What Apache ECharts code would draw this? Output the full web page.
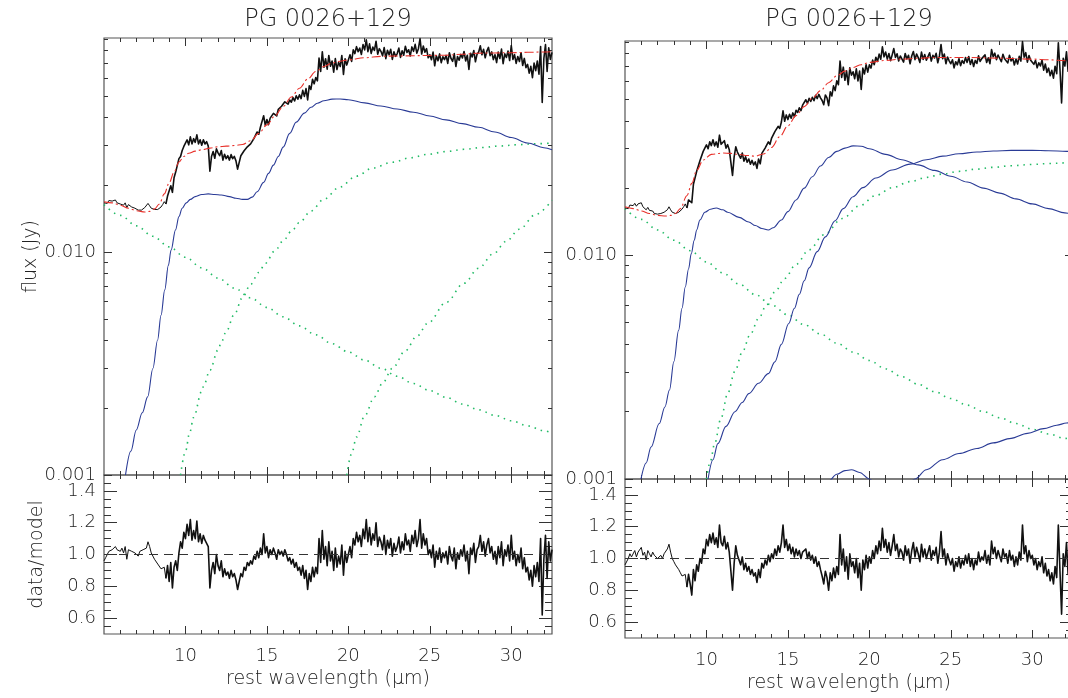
<!DOCTYPE html>
<html>
<head>
<meta charset="utf-8">
<script src="https://cdn.jsdelivr.net/npm/echarts@6.0.0/dist/echarts.min.js"></script>
<style>
html,body{margin:0;padding:0;background:#fff;}
#chart{width:1068px;height:698px;}
</style>
</head>
<body>
<div id="chart"></div>
<script>
// ---------------- DATA ----------------
const TITLE = 'PG 0026+129';
const X_MIN = 5, X_MAX = 32.5;
const X_MAJOR = [10, 15, 20, 25, 30];
const X_MINOR = [6,7,8,9,11,12,13,14,16,17,18,19,21,22,23,24,26,27,28,29,31,32];
const FLUX_MIN = 0.001, FLUX_MAX = 0.091;
const FLUX_LABELS = [0.001, 0.01];
const FLUX_MINOR = [0.002,0.003,0.004,0.005,0.006,0.007,0.008,0.009,0.02,0.03,0.04,0.05,0.06,0.07,0.08,0.09];
const RATIO_MIN = 0.5, RATIO_MAX = 1.5;
const RATIO_MAJOR = [0.6, 0.8, 1.0, 1.2, 1.4];
const RATIO_MINOR = [0.55,0.65,0.7,0.75,0.85,0.9,0.95,1.05,1.1,1.15,1.25,1.3,1.35,1.45];
const RATIO_UNITY = 1.0;

// spectra sampled every 0.1 micron from 5.0 to 32.5
const WAVE_START = 5.0, WAVE_STEP = 0.1;
const DENSE_FROM = 38;   // index (8.8 micron) where the densely sampled part of the spectrum starts

const LEFT_SPECTRUM = [
0.0166,0.0168,0.0165,0.0170,0.0167,0.0169,0.0166,0.0171,0.0166,0.0168,
0.0164,0.0167,0.0162,0.0166,0.0158,0.0163,0.0161,0.0159,0.0160,0.0157,
0.0155,0.0154,0.0156,0.0154,0.0157,0.0158,0.0160,0.0165,0.0161,0.0157,
0.0156,0.0155,0.0156,0.0155,0.0157,0.0159,0.0163,0.0168,0.0164,0.0178,
0.0176,0.0198,0.0185,0.0215,0.0228,0.0232,0.0262,0.0268,0.0285,0.0297,
0.0292,0.0318,0.0302,0.0328,0.0305,0.0322,0.0310,0.0335,0.0305,0.0318,
0.0301,0.0318,0.0305,0.0312,0.0298,0.0230,0.0268,0.0282,0.0263,0.0290,
0.0278,0.0270,0.0285,0.0258,0.0274,0.0262,0.0270,0.0258,0.0273,0.0262,
0.0268,0.0256,0.0235,0.0252,0.0270,0.0266,0.0284,0.0280,0.0296,0.0292,
0.0305,0.0304,0.0322,0.0320,0.0345,0.0337,0.0362,0.0356,0.0408,0.0369,
0.0392,0.0372,0.0398,0.0394,0.0418,0.0413,0.0407,0.0436,0.0432,0.0450,
0.0446,0.0471,0.0467,0.0460,0.0480,0.0469,0.0492,0.0475,0.0501,0.0484,
0.0506,0.0487,0.0530,0.0498,0.0540,0.0480,0.0555,0.0535,0.0594,0.0567,
0.0605,0.0585,0.0740,0.0645,0.0790,0.0673,0.0735,0.0660,0.0760,0.0680,
0.0718,0.0640,0.0736,0.0657,0.0708,0.0678,0.0760,0.0625,0.0735,0.0688,
0.0725,0.0765,0.0715,0.0805,0.0775,0.0832,0.0790,0.0820,0.0768,0.0850,
0.0805,0.0893,0.0790,0.0857,0.0776,0.0828,0.0800,0.0880,0.0770,0.0815,
0.0793,0.0757,0.0825,0.0735,0.0802,0.0765,0.0810,0.0730,0.0790,0.0753,
0.0775,0.0820,0.0745,0.0798,0.0762,0.0836,0.0784,0.0806,0.0756,0.0830,
0.0793,0.0852,0.0778,0.0815,0.0905,0.0771,0.0838,0.0786,0.0815,0.0742,
0.0765,0.0727,0.0787,0.0683,0.0758,0.0720,0.0772,0.0705,0.0750,0.0728,
0.0760,0.0700,0.0782,0.0737,0.0715,0.0775,0.0678,0.0752,0.0723,0.0768,
0.0740,0.0792,0.0718,0.0762,0.0658,0.0778,0.0748,0.0800,0.0712,0.0770,
0.0787,0.0840,0.0765,0.0810,0.0742,0.0795,0.0826,0.0758,0.0788,0.0728,
0.0766,0.0706,0.0788,0.0736,0.0811,0.0698,0.0773,0.0744,0.0796,0.0721,
0.0842,0.0729,0.0767,0.0700,0.0752,0.0714,0.0782,0.0685,0.0737,0.0670,
0.0693,0.0633,0.0679,0.0604,0.0702,0.0650,0.0718,0.0627,0.0833,0.0468,
0.0735,0.0850,0.0645,0.0822,0.0730,0.0785
];

const LEFT_RATIO = [
0.96,0.98,1.00,1.02,1.01,1.03,1.02,1.05,1.03,1.04,
1.02,1.04,1.01,1.05,0.97,1.03,1.04,1.02,1.03,1.01,
1.00,0.99,1.02,1.01,1.03,1.02,1.04,1.08,1.05,1.01,
0.99,0.97,0.96,0.94,0.93,0.91,0.90,0.92,0.85,0.93,
0.83,0.95,0.79,0.92,0.96,0.90,1.01,1.08,1.04,1.14,
1.10,1.19,1.12,1.22,1.09,1.15,1.10,1.21,1.08,1.13,
1.07,1.12,1.09,1.10,1.05,0.79,0.90,0.95,0.88,1.00,
0.93,0.90,0.96,0.86,0.91,0.87,0.89,0.85,0.90,0.86,
0.88,0.84,0.78,0.83,0.88,0.86,0.92,0.90,0.95,0.93,
0.96,0.94,0.99,0.97,1.02,0.98,1.04,1.00,1.13,1.01,
1.05,0.98,1.03,1.00,1.04,1.01,0.97,1.03,1.00,1.02,
0.99,1.03,1.00,0.96,0.98,0.94,0.97,0.92,0.95,0.90,
0.92,0.87,0.93,0.85,0.90,0.78,0.88,0.83,0.92,0.86,
0.92,0.88,1.10,0.95,1.15,0.97,1.05,0.93,1.08,0.96,
1.02,0.90,1.04,0.92,0.99,0.94,1.06,0.87,1.02,0.95,
1.00,1.05,0.98,1.10,1.06,1.14,1.08,1.12,1.05,1.16,
1.10,1.22,1.08,1.17,1.06,1.13,1.09,1.20,1.05,1.11,
1.08,1.03,1.12,1.00,1.09,1.04,1.10,0.99,1.07,1.02,
1.05,1.11,1.01,1.08,1.03,1.13,1.06,1.09,1.02,1.12,
1.07,1.15,1.05,1.10,1.22,1.04,1.13,1.06,1.10,1.00,
1.03,0.98,1.06,0.92,1.02,0.97,1.04,0.95,1.01,0.98,
1.02,0.94,1.05,0.99,0.96,1.04,0.91,1.01,0.97,1.03,
0.99,1.06,0.96,1.02,0.88,1.04,1.00,1.07,0.95,1.03,
1.05,1.12,1.02,1.08,0.99,1.06,1.10,1.01,1.05,0.97,
1.02,0.94,1.05,0.98,1.08,0.93,1.03,0.99,1.06,0.96,
1.12,0.97,1.02,0.93,1.00,0.95,1.04,0.91,0.98,0.89,
0.92,0.84,0.90,0.80,0.93,0.86,0.95,0.83,1.10,0.62,
0.97,1.12,0.85,1.08,0.96,1.03
];

const RIGHT_SPECTRUM = [
0.0163,0.0165,0.0162,0.0168,0.0166,0.0167,0.0171,0.0166,0.0170,0.0167,
0.0172,0.0165,0.0167,0.0160,0.0164,0.0159,0.0157,0.0158,0.0154,0.0155,
0.0153,0.0152,0.0154,0.0153,0.0156,0.0158,0.0160,0.0165,0.0160,0.0156,
0.0155,0.0154,0.0155,0.0156,0.0158,0.0161,0.0165,0.0170,0.0163,0.0177,
0.0178,0.0172,0.0208,0.0205,0.0238,0.0240,0.0265,0.0262,0.0292,0.0287,
0.0312,0.0300,0.0322,0.0310,0.0329,0.0309,0.0322,0.0305,0.0345,0.0314,
0.0309,0.0326,0.0302,0.0313,0.0297,0.0298,0.0228,0.0276,0.0306,0.0290,
0.0292,0.0272,0.0287,0.0264,0.0276,0.0261,0.0270,0.0256,0.0266,0.0254,
0.0262,0.0245,0.0270,0.0257,0.0286,0.0282,0.0302,0.0298,0.0322,0.0314,
0.0335,0.0331,0.0358,0.0351,0.0378,0.0370,0.0395,0.0443,0.0398,0.0425,
0.0405,0.0428,0.0411,0.0434,0.0417,0.0446,0.0436,0.0457,0.0444,0.0470,
0.0475,0.0497,0.0478,0.0504,0.0488,0.0510,0.0492,0.0520,0.0503,0.0525,
0.0507,0.0493,0.0472,0.0522,0.0507,0.0468,0.0539,0.0517,0.0573,0.0546,
0.0604,0.0580,0.0740,0.0625,0.0695,0.0607,0.0670,0.0580,0.0690,0.0640,
0.0663,0.0617,0.0683,0.0603,0.0668,0.0553,0.0688,0.0648,0.0713,0.0660,
0.0712,0.0688,0.0748,0.0713,0.0770,0.0737,0.0795,0.0754,0.0857,0.0773,
0.0812,0.0755,0.0800,0.0743,0.0789,0.0842,0.0768,0.0798,0.0741,0.0780,
0.0768,0.0732,0.0800,0.0756,0.0786,0.0720,0.0780,0.0817,0.0751,0.0796,
0.0767,0.0730,0.0812,0.0753,0.0791,0.0747,0.0776,0.0806,0.0740,0.0785,
0.0764,0.0802,0.0727,0.0780,0.0878,0.0758,0.0795,0.0720,0.0772,0.0742,
0.0720,0.0750,0.0690,0.0735,0.0712,0.0758,0.0706,0.0744,0.0722,0.0767,
0.0730,0.0776,0.0715,0.0752,0.0700,0.0745,0.0722,0.0781,0.0737,0.0759,
0.0744,0.0789,0.0729,0.0766,0.0721,0.0834,0.0774,0.0803,0.0751,0.0788,
0.0781,0.0735,0.0794,0.0757,0.0771,0.0726,0.0786,0.0741,0.0763,0.0711,
0.0756,0.0718,0.0777,0.0740,0.0904,0.0770,0.0807,0.0732,0.0784,0.0746,
0.0761,0.0716,0.0745,0.0690,0.0727,0.0704,0.0748,0.0674,0.0718,0.0658,
0.0688,0.0636,0.0673,0.0621,0.0702,0.0650,0.0894,0.0680,0.0481,0.0762,
0.0703,0.0815,0.0666,0.0777,0.0717,0.0740
];

const RIGHT_RATIO = [
0.96,0.97,1.00,1.03,1.01,1.02,1.05,1.01,1.04,1.03,
1.07,1.02,1.04,0.99,1.05,1.03,1.01,1.04,1.02,1.03,
1.00,1.01,1.02,1.00,1.03,1.04,1.06,1.09,1.04,1.00,
0.98,0.96,0.95,0.93,0.91,0.89,0.88,0.90,0.82,0.90,
0.84,0.77,0.93,0.86,0.96,0.92,1.00,0.97,1.06,1.03,
1.12,1.08,1.15,1.10,1.16,1.09,1.13,1.07,1.21,1.10,
1.08,1.14,1.06,1.10,1.04,1.05,0.80,0.97,1.08,1.02,
1.03,0.96,1.01,0.93,0.97,0.92,0.95,0.90,0.93,0.89,
0.91,0.85,0.93,0.88,0.97,0.94,0.99,0.96,1.02,0.98,
1.03,1.00,1.06,1.02,1.08,1.04,1.10,1.21,1.07,1.12,
1.05,1.09,1.03,1.07,1.01,1.06,1.02,1.05,1.00,1.04,
1.03,1.06,1.00,1.04,0.99,1.02,0.97,1.01,0.95,0.98,
0.93,0.89,0.84,0.92,0.88,0.80,0.91,0.86,0.94,0.88,
0.95,0.90,1.15,0.96,1.06,0.92,1.01,0.87,1.03,0.95,
0.98,0.91,1.00,0.88,0.97,0.80,0.99,0.93,1.02,0.94,
1.01,0.97,1.05,1.00,1.08,1.03,1.11,1.05,1.19,1.07,
1.12,1.04,1.10,1.02,1.08,1.15,1.05,1.09,1.01,1.06,
1.04,0.99,1.08,1.02,1.06,0.97,1.05,1.10,1.01,1.07,
1.03,0.98,1.09,1.01,1.06,1.00,1.04,1.08,0.99,1.05,
1.02,1.07,0.97,1.04,1.17,1.01,1.06,0.96,1.03,0.99,
0.96,1.00,0.92,0.98,0.95,1.01,0.94,0.99,0.96,1.02,
0.97,1.03,0.95,1.00,0.93,0.99,0.96,1.04,0.98,1.01,
0.99,1.05,0.97,1.02,0.96,1.11,1.03,1.07,1.00,1.05,
1.04,0.98,1.06,1.01,1.03,0.97,1.05,0.99,1.02,0.95,
1.01,0.96,1.04,0.99,1.21,1.03,1.08,0.98,1.05,1.00,
1.02,0.96,1.00,0.93,0.98,0.95,1.01,0.91,0.97,0.89,
0.93,0.86,0.91,0.84,0.95,0.88,1.21,0.92,0.65,1.03,
0.95,1.10,0.90,1.05,0.97,1.00
];

// smooth model curves: [wavelength, flux]
const LEFT_MODEL = [[5.0,0.0168],[5.5,0.0166],[6.0,0.0162],[6.5,0.0157],[7.0,0.0153],[7.5,0.0151],[7.8,0.0152],[8.1,0.0156],[8.4,0.0164],[8.7,0.0182],[9.0,0.0204],[9.3,0.0228],[9.6,0.0253],[9.9,0.0268],[10.2,0.0277],[10.6,0.0283],[11.0,0.0287],[11.5,0.0292],[12.0,0.0296],[12.5,0.0298],[13.0,0.0300],[13.5,0.0303],[14.0,0.0315],[14.5,0.0340],[15.0,0.0371],[15.5,0.0408],[16.0,0.0449],[16.5,0.0495],[17.0,0.0542],[17.5,0.0595],[18.0,0.0644],[18.5,0.0678],[19.0,0.0702],[19.5,0.0716],[20.0,0.0726],[21.0,0.0742],[22.0,0.0753],[23.0,0.0756],[24.0,0.0758],[25.0,0.0760],[26.0,0.0762],[27.0,0.0770],[28.0,0.0778],[29.0,0.0780],[30.0,0.0782],[31.0,0.0785],[32.0,0.0788],[32.5,0.0790]];
const LEFT_BLUE = [[6.32,0.00100],[6.65,0.00128],[6.98,0.00159],[7.35,0.00190],[7.68,0.00224],[8.0,0.00300],[8.29,0.00403],[8.5,0.00520],[8.73,0.00676],[8.95,0.00870],[9.12,0.0102],[9.39,0.01256],[9.6,0.0144],[9.8,0.0157],[10.05,0.0166],[10.3,0.0172],[10.6,0.0177],[11.0,0.0181],[11.4,0.0182],[11.8,0.0181],[12.2,0.0180],[12.7,0.0177],[13.1,0.0174],[13.5,0.0172],[13.8,0.0172],[14.1,0.0176],[14.4,0.0186],[14.8,0.0205],[15.1,0.0225],[15.4,0.0245],[15.7,0.0268],[16.0,0.0295],[16.4,0.0340],[16.8,0.0382],[17.3,0.0419],[17.7,0.0445],[18.1,0.0464],[18.5,0.0476],[19.0,0.0484],[19.5,0.0485],[20.0,0.0481],[21.0,0.0466],[22.0,0.0451],[23.0,0.0437],[24.0,0.0423],[25.0,0.0407],[26.0,0.0391],[27.0,0.0376],[28.0,0.0362],[29.0,0.0345],[30.0,0.0326],[31.0,0.0308],[32.0,0.0293],[32.5,0.0287]];
const LEFT_GREEN_1 = [[5,0.01629],[6,0.01459],[7,0.01309],[8,0.01175],[9,0.01054],[10,0.00946],[11,0.00849],[12,0.00764],[13,0.00689],[14,0.00622],[15,0.00564],[16,0.00512],[17,0.00466],[18,0.00425],[19,0.00388],[20,0.00356],[21,0.00327],[22,0.00301],[23,0.00277],[24,0.00257],[25,0.00239],[26,0.00223],[27,0.00208],[28,0.00196],[29,0.00185],[30,0.00175],[31,0.00166],[32,0.00158],[32.5,0.00154]];
const LEFT_GREEN_2 = [[9.7,0.001000],[10.0,0.001274],[10.26,0.001549],[10.5,0.001811],[11.0,0.002371],[11.1,0.002489],[11.5,0.002951],[12.0,0.003631],[12.2,0.003936],[12.5,0.004395],[13.0,0.005248],[13.5,0.006237],[14.0,0.007161],[14.5,0.008091],[14.9,0.008892],[15.5,0.010139],[16.0,0.011220],[16.5,0.012359],[17.0,0.013552],[17.7,0.015241],[18.5,0.017219],[19.45,0.019498],[20.5,0.021878],[21.5,0.023768],[22.7,0.025235],[23.8,0.026424],[24.9,0.027416],[26.0,0.028184],[27.1,0.028840],[28.2,0.029376],[29.3,0.029854],[30.5,0.030269],[31.5,0.030549],[32.5,0.030761]];
const LEFT_GREEN_3 = [[19.9,0.001000],[20.2,0.001245],[20.5,0.001479],[21.0,0.001841],[21.6,0.002239],[22.1,0.002582],[22.7,0.003006],[23.5,0.003606],[24.2,0.004188],[24.9,0.004808],[26.0,0.005943],[27.1,0.007244],[28.0,0.008453],[28.9,0.009817],[29.7,0.011169],[30.5,0.012647],[31.5,0.014723],[32.5,0.017061]];

const RIGHT_MODEL = [[5.0,0.0165],[5.5,0.0162],[6.0,0.0158],[6.5,0.0154],[7.0,0.0151],[7.5,0.0150],[7.8,0.0151],[8.1,0.0154],[8.4,0.0162],[8.8,0.0185],[9.1,0.0210],[9.4,0.0240],[9.8,0.0267],[10.3,0.0283],[11.0,0.0287],[11.5,0.0286],[12.0,0.0283],[12.5,0.0280],[13.0,0.0278],[13.5,0.0284],[14.0,0.0304],[14.5,0.0340],[15.0,0.0380],[15.5,0.0422],[16.0,0.0463],[16.5,0.0505],[17.0,0.0545],[17.5,0.0592],[18.0,0.0636],[18.5,0.0667],[19.0,0.0693],[19.5,0.0713],[20.0,0.0730],[21.0,0.0745],[22.0,0.0755],[23.0,0.0762],[24.0,0.0768],[26.0,0.0768],[28.0,0.0763],[30.0,0.0755],[31.0,0.0750],[32.0,0.0743],[32.5,0.0739]];
const RIGHT_BLUE_1 = [[5.98,0.00100],[6.3,0.00118],[6.6,0.00139],[7.1,0.00177],[7.45,0.00210],[7.73,0.00250],[8.0,0.00335],[8.29,0.00462],[8.5,0.00580],[8.7,0.00722],[8.9,0.00870],[9.07,0.0102],[9.25,0.0117],[9.4,0.0130],[9.6,0.0144],[9.9,0.0156],[10.25,0.0161],[10.6,0.0163],[11.0,0.0160],[11.3,0.0156],[12.0,0.0148],[12.6,0.0141],[13.0,0.0136],[13.4,0.0132],[13.8,0.0130],[14.1,0.0133],[14.6,0.0144],[15.0,0.0157],[15.5,0.0177],[16.0,0.0200],[16.5,0.0225],[17.0,0.0251],[17.5,0.0274],[18.0,0.0292],[18.5,0.0302],[19.0,0.0309],[19.5,0.0308],[20.0,0.0300],[21.0,0.0283],[22.0,0.0268],[23.0,0.0254],[24.0,0.0240],[25.0,0.0226],[26.0,0.0213],[27.0,0.0200],[28.0,0.0190],[29.0,0.0179],[30.0,0.0170],[31.0,0.0162],[32.0,0.0155],[32.5,0.0152]];
const RIGHT_BLUE_2 = [[10.1,0.00100],[10.4,0.00122],[10.7,0.00144],[11.2,0.00172],[11.75,0.00200],[12.2,0.00220],[12.6,0.00241],[13.2,0.00268],[13.8,0.00296],[14.2,0.00334],[14.6,0.00400],[15.05,0.00496],[15.4,0.00580],[15.7,0.00670],[16.0,0.00770],[16.3,0.00880],[16.8,0.0104],[17.3,0.0121],[17.9,0.0143],[18.4,0.0162],[19.0,0.0183],[19.6,0.0201],[20.4,0.0222],[21.4,0.0241],[22.5,0.0256],[23.5,0.0268],[24.5,0.0278],[25.5,0.0285],[26.6,0.0290],[27.6,0.0293],[28.7,0.0295],[30.0,0.0295],[31.0,0.0294],[32.1,0.0292],[32.5,0.0291]];
const RIGHT_BLUE_3 = [[17.0,0.00085],[17.5,0.00098],[18.0,0.00105],[18.5,0.00109],[18.9,0.00110],[19.4,0.00107],[20.0,0.00100],[20.5,0.00094],[21.5,0.00088],[22.3,0.00094],[22.8,0.00100],[23.5,0.00110],[24.5,0.00122],[25.5,0.00130],[26.6,0.00137],[27.6,0.00145],[28.7,0.00152],[29.7,0.00160],[30.7,0.00168],[31.5,0.00174],[32.1,0.00178],[32.5,0.00180]];
const RIGHT_GREEN_1 = [[5,0.0162],[6,0.0145],[7,0.0130],[8,0.0117],[9,0.01050],[10,0.00935],[11,0.00835],[12,0.00745],[13,0.00668],[14,0.00600],[15,0.00542],[16,0.00490],[17,0.00445],[18,0.00405],[19,0.00370],[20,0.00339],[21,0.00311],[22,0.00287],[23,0.00265],[24,0.00246],[25,0.00229],[26,0.00214],[27,0.00200],[28,0.00188],[29,0.00177],[30,0.00167],[31,0.00159],[32,0.00152],[32.5,0.00149]];
const RIGHT_GREEN_2 = [[10.0,0.001000],[10.25,0.001208],[10.5,0.001439],[10.9,0.001875],[11.3,0.002410],[11.75,0.003034],[12.2,0.003698],[12.7,0.004446],[13.2,0.005224],[13.7,0.006026],[14.2,0.006855],[14.8,0.007889],[15.5,0.009120],[16.3,0.010593],[17.2,0.012359],[18.35,0.014622],[19.4,0.016672],[20.4,0.018535],[21.4,0.020091],[22.5,0.021380],[23.5,0.022336],[24.5,0.023121],[25.5,0.023768],[26.6,0.024322],[27.6,0.024774],[28.7,0.025177],[30.0,0.025527],[31.0,0.025763],[32.1,0.025942],[32.5,0.026002]];

// ---------------- STYLE / LAYOUT ----------------
const FONT = 'DejaVu Sans';
const FONT_WEIGHT = 200;
const TEXT_COLOR = '#222';
const LABEL_SIZE = 18;
const NAME_SIZE = 19;
const TITLE_SIZE = 24;
const TICK_COLOR = '#333';
const FRAME_COLOR = '#555';
const C_BLACK = '#111';
const C_RED = '#e8302a';
const C_BLUE = '#2a3b96';
const C_GREEN = '#22bb66';

const PANELS = [
  { left: 104, fluxTop: 38, fluxH: 437, ratioTop: 475, ratioH: 159, titleX: 323, yNames: true },
  { left: 625, fluxTop: 41, fluxH: 438, ratioTop: 479, ratioH: 159, titleX: 844, yNames: false }
];
const PANEL_W = 448;

function onGrid(values) {
  return values.map((v, i) => [+(WAVE_START + i * WAVE_STEP).toFixed(2), v]);
}

const grids = [], xAxes = [], yAxes = [], series = [], titles = [];

function tickAxis(o) {
  const a = {
    type: 'value', gridIndex: o.grid, min: o.min, max: o.max, position: o.position,
    axisLine: { show: false, onZero: false },
    axisTick: { show: true, inside: true, length: o.len, customValues: o.ticks,
                lineStyle: { color: TICK_COLOR, width: 1 } },
    axisLabel: o.labels ? {
      show: true, customValues: o.labels, formatter: o.formatter, margin: o.margin,
      color: TEXT_COLOR, fontSize: LABEL_SIZE, fontFamily: FONT, fontWeight: FONT_WEIGHT
    } : { show: false },
    splitLine: { show: false }, minorTick: { show: false }, minorSplitLine: { show: false },
    silent: true
  };
  if (o.name) {
    a.name = o.name; a.nameLocation = 'middle'; a.nameGap = o.nameGap;
    if (o.nameRotate !== undefined) a.nameRotate = o.nameRotate;
    a.nameTextStyle = { color: TEXT_COLOR, fontSize: NAME_SIZE, fontFamily: FONT, fontWeight: FONT_WEIGHT };
  }
  return a;
}

function addXAxes(g, withLabels) {
  const dataIdx = xAxes.length;
  xAxes.push({ type: 'value', gridIndex: g, min: X_MIN, max: X_MAX, show: false });
  xAxes.push(tickAxis({ grid: g, min: X_MIN, max: X_MAX, position: 'bottom', len: 8, ticks: X_MAJOR,
    labels: withLabels ? X_MAJOR : null, formatter: v => String(v), margin: 13,
    name: withLabels ? 'rest wavelength (\u03bcm)' : null, nameGap: 36 }));
  xAxes.push(tickAxis({ grid: g, min: X_MIN, max: X_MAX, position: 'bottom', len: 4, ticks: X_MINOR }));
  xAxes.push(tickAxis({ grid: g, min: X_MIN, max: X_MAX, position: 'top', len: 8, ticks: X_MAJOR }));
  xAxes.push(tickAxis({ grid: g, min: X_MIN, max: X_MAX, position: 'top', len: 4, ticks: X_MINOR }));
  return dataIdx;
}

function addFluxYAxes(g, yName) {
  const dataIdx = yAxes.length;
  yAxes.push({ type: 'log', logBase: 10, gridIndex: g, min: FLUX_MIN, max: FLUX_MAX, show: false });
  const lmin = Math.log10(FLUX_MIN), lmax = Math.log10(FLUX_MAX);
  const major = FLUX_LABELS.map(Math.log10), minor = FLUX_MINOR.map(Math.log10);
  yAxes.push(tickAxis({ grid: g, min: lmin, max: lmax, position: 'left', len: 8, ticks: major,
    labels: major, formatter: v => Math.pow(10, v).toFixed(3), margin: 8,
    name: yName ? 'flux (Jy)' : null, nameGap: 57, nameRotate: 90 }));
  yAxes.push(tickAxis({ grid: g, min: lmin, max: lmax, position: 'left', len: 4, ticks: minor }));
  yAxes.push(tickAxis({ grid: g, min: lmin, max: lmax, position: 'right', len: 8, ticks: major }));
  yAxes.push(tickAxis({ grid: g, min: lmin, max: lmax, position: 'right', len: 4, ticks: minor }));
  return dataIdx;
}

function addRatioYAxes(g, yName) {
  const dataIdx = yAxes.length;
  yAxes.push({ type: 'value', gridIndex: g, min: RATIO_MIN, max: RATIO_MAX, show: false });
  yAxes.push(tickAxis({ grid: g, min: RATIO_MIN, max: RATIO_MAX, position: 'left', len: 13, ticks: RATIO_MAJOR,
    labels: RATIO_MAJOR, formatter: v => Number(v).toFixed(1), margin: 8,
    name: yName ? 'data/model' : null, nameGap: 57, nameRotate: 90 }));
  yAxes.push(tickAxis({ grid: g, min: RATIO_MIN, max: RATIO_MAX, position: 'left', len: 7, ticks: RATIO_MINOR }));
  yAxes.push(tickAxis({ grid: g, min: RATIO_MIN, max: RATIO_MAX, position: 'right', len: 13, ticks: RATIO_MAJOR }));
  yAxes.push(tickAxis({ grid: g, min: RATIO_MIN, max: RATIO_MAX, position: 'right', len: 7, ticks: RATIO_MINOR }));
  return dataIdx;
}

function line(data, xi, yi, style, smooth) {
  const s = {
    type: 'line', data: data, xAxisIndex: xi, yAxisIndex: yi,
    showSymbol: false, symbol: 'none', animation: false, silent: true, clip: true,
    lineStyle: style
  };
  if (smooth) { s.smooth = 0.35; s.smoothMonotone = 'x'; }
  return s;
}

const blackThin = { color: C_BLACK, width: 1.0 };
const blackDense = { color: C_BLACK, width: 1.6, join: 'round' };
const red = { color: C_RED, width: 1.1, type: [9, 3, 2, 3] };
const blue = { color: C_BLUE, width: 1.1 };
const green = { color: C_GREEN, width: 1.6, type: [1.5, 5] };

const PANEL_DATA = [
  { spectrum: LEFT_SPECTRUM, ratio: LEFT_RATIO, model: LEFT_MODEL,
    blues: [LEFT_BLUE], greens: [LEFT_GREEN_1, LEFT_GREEN_2, LEFT_GREEN_3] },
  { spectrum: RIGHT_SPECTRUM, ratio: RIGHT_RATIO, model: RIGHT_MODEL,
    blues: [RIGHT_BLUE_1, RIGHT_BLUE_2, RIGHT_BLUE_3], greens: [RIGHT_GREEN_1, RIGHT_GREEN_2] }
];

PANELS.forEach((p, k) => {
  const d = PANEL_DATA[k];
  const gFlux = grids.length;
  grids.push({ left: p.left, top: p.fluxTop, width: PANEL_W, height: p.fluxH, show: true,
    borderColor: FRAME_COLOR, borderWidth: 1.2, backgroundColor: 'transparent',
    containLabel: false, outerBoundsMode: 'none' });
  const gRatio = grids.length;
  grids.push({ left: p.left, top: p.ratioTop, width: PANEL_W, height: p.ratioH, show: true,
    borderColor: FRAME_COLOR, borderWidth: 1.2, backgroundColor: 'transparent',
    containLabel: false, outerBoundsMode: 'none' });

  const xf = addXAxes(gFlux, false);
  const yf = addFluxYAxes(gFlux, p.yNames);
  const xr = addXAxes(gRatio, true);
  const yr = addRatioYAxes(gRatio, p.yNames);

  d.greens.forEach(c => series.push(line(c, xf, yf, green, true)));
  d.blues.forEach(c => series.push(line(c, xf, yf, blue, true)));
  const spec = onGrid(d.spectrum);
  series.push(line(spec.slice(0, DENSE_FROM + 1), xf, yf, blackThin, false));
  series.push(line(spec.slice(DENSE_FROM), xf, yf, blackDense, false));
  series.push(line(d.model, xf, yf, red, true));

  const rat = onGrid(d.ratio);
  series.push(line(rat.slice(0, DENSE_FROM + 1), xr, yr, blackThin, false));
  const rs = line(rat.slice(DENSE_FROM), xr, yr, blackDense, false);
  rs.markLine = {
    silent: true, animation: false, symbol: ['none', 'none'],
    label: { show: false },
    lineStyle: { color: '#333', width: 1, type: [9, 6] },
    data: [{ yAxis: RATIO_UNITY }]
  };
  series.push(rs);

  titles.push({ text: TITLE, left: p.titleX, top: 3, textAlign: 'center',
    textStyle: { color: TEXT_COLOR, fontSize: TITLE_SIZE, fontFamily: FONT, fontWeight: FONT_WEIGHT } });
});

const chart = echarts.init(document.getElementById('chart'), null, { renderer: 'canvas' });
chart.setOption({
  backgroundColor: '#ffffff',
  animation: false,
  title: titles,
  grid: grids,
  xAxis: xAxes,
  yAxis: yAxes,
  series: series
});
</script>
</body>
</html>
